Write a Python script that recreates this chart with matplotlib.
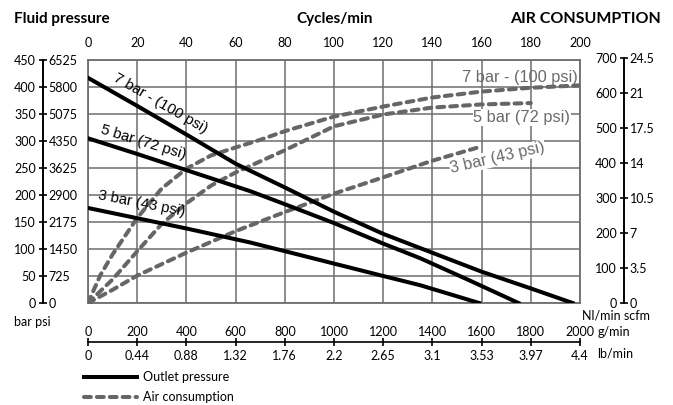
import numpy as np
import matplotlib
matplotlib.use("Agg")
import matplotlib.pyplot as plt

plt.rcParams["font.family"] = ["Lato", "DejaVu Sans"]

# outlet pressure (bar) vs flow (g/min)
p7_x = [0, 200, 400, 600, 800, 1000, 1200, 1400, 1600, 1800, 1970]
p7_y = [417, 365, 312, 258, 214, 169, 128, 93, 58, 27, 0]
p5_x = [0, 200, 400, 660, 800, 1000, 1200, 1350, 1550, 1750]
p5_y = [305, 276, 246, 207, 183, 148, 110, 83, 42, 0]
p3_x = [0, 200, 400, 660, 800, 1000, 1200, 1350, 1590]
p3_y = [176, 157, 138, 112, 96, 73, 50, 33, 0]

# air consumption (Nl/min) vs flow (g/min)
a7_x = [0, 50, 100, 200, 300, 400, 500, 600, 700, 800, 1000, 1200, 1400, 1600, 1800, 2000]
a7_y = [0, 80, 140, 245, 330, 387, 425, 448, 470, 495, 537, 566, 592, 609, 620, 627]
a5_x = [0, 100, 200, 300, 400, 500, 600, 800, 1000, 1200, 1400, 1600, 1800]
a5_y = [0, 68, 149, 228, 287, 338, 376, 440, 509, 543, 563, 572, 576]
a3_x = [0, 100, 200, 400, 600, 800, 1000, 1200, 1400, 1600]
a3_y = [0, 38, 79, 145, 207, 262, 315, 362, 410, 451]

flow_ticks = list(range(0, 2001, 200))
lb_labels = ["0", "0.44", "0.88", "1.32", "1.76", "2.2", "2.65", "3.1", "3.53", "3.97", "4.4"]
cycle_ticks = list(range(0, 201, 20))
bar_ticks = list(range(0, 451, 50))
psi_ticks = [b * 14.5 for b in bar_ticks]
nl_ticks = list(range(0, 701, 100))
scfm_labels = ["0", "3.5", "7", "10.5", "14", "17.5", "21", "24.5"]

W, H = 673, 405


def fx(px):
    return px / W


def fy(py):
    return 1 - py / H


fig = plt.figure(figsize=(W / 100, H / 100), dpi=100)

box = [fx(88), fy(303), 492 / W, 243 / H]
gridc = "#6e6e6e"
grayc = "#666666"
labc = "#6a6a6a"

# grid axes
ax = fig.add_axes(box)
ax.set_xlim(0, 2000)
ax.set_ylim(0, 450)
ax.set_xticks(flow_ticks)
ax.set_yticks(bar_ticks)
ax.grid(True, color=gridc, lw=1.1)
ax.tick_params(length=0, labelbottom=False, labelleft=False)
for s in ax.spines.values():
    s.set_color(gridc)
    s.set_linewidth(1.3)

top = ax.secondary_xaxis("top", functions=(lambda x: x / 10, lambda x: x * 10))
top.set_xticks(cycle_ticks)
top.tick_params(length=0, pad=8, labelsize=9)
top.spines["top"].set_visible(False)

# air consumption curves
ax_air = ax.twinx()
ax_air.set_ylim(0, 700)
ax_air.axis("off")
dash = dict(color=grayc, lw=2.9, dashes=(1.7, 1.5), dash_capstyle="round")
l_air, = ax_air.plot(a7_x, a7_y, **dash)
ax_air.plot(a5_x, a5_y, **dash)
ax_air.plot(a3_x, a3_y, **dash)
ax_air.plot([0], [0], "o", color=grayc, ms=5)

lab = dict(family=["Liberation Sans", "DejaVu Sans"], fontsize=11.8, color=labc)
ax_air.text(1992, 649, "7 bar - (100 psi)", ha="right", va="center", **lab)
ax_air.text(1960, 534, "5 bar (72 psi)", ha="right", va="center",
            bbox=dict(facecolor="white", edgecolor="none", pad=0.5), **lab)
ax_air.text(1665, 418, "3 bar (43 psi)", ha="center", va="center", rotation=13,
            rotation_mode="anchor",
            bbox=dict(facecolor="white", edgecolor="none", pad=0.5), **lab)

# outlet pressure curves
ax_p = ax.twinx()
ax_p.set_ylim(0, 450)
ax_p.axis("off")
l_p, = ax_p.plot(p7_x, p7_y, color="black", lw=2.9)
ax_p.plot(p5_x, p5_y, color="black", lw=2.9)
ax_p.plot(p3_x, p3_y, color="black", lw=2.9)

blab = dict(family=["Liberation Sans", "DejaVu Sans"], fontsize=10.8, color="black",
            ha="center", va="center", rotation_mode="anchor")
ax_p.text(293, 370, "7 bar - (100 psi)", rotation=-30, **blab)
ax_p.text(224, 297, "5 bar (72 psi)", rotation=-17, **blab)
ax_p.text(220, 184, "3 bar (43 psi)", rotation=-11, **blab)

# left pressure axis
axL = fig.add_axes([fx(43), fy(303), 1e-5, 243 / H])
axL.set_ylim(0, 450)
axL.patch.set_visible(False)
axL.set_xticks([])
for k in ["top", "right", "bottom"]:
    axL.spines[k].set_visible(False)
axL.spines["left"].set_linewidth(1.4)
axL.set_yticks(bar_ticks)
axL.tick_params(axis="y", direction="inout", length=6, width=1.2, pad=2, labelsize=9)
psi = axL.secondary_yaxis("right", functions=(lambda b: b * 14.5, lambda p: p / 14.5))
psi.set_yticks(psi_ticks, labels=[f"{p:g}" for p in psi_ticks])
psi.tick_params(direction="inout", length=0, pad=4, labelsize=9)
psi.spines["right"].set_visible(False)

# right air axis
axR = fig.add_axes([fx(624), fy(303), 1e-5, 245 / H])
axR.set_ylim(0, 700)
axR.patch.set_visible(False)
axR.set_xticks([])
for k in ["top", "right", "bottom"]:
    axR.spines[k].set_visible(False)
axR.spines["left"].set_linewidth(1.4)
axR.set_yticks(nl_ticks)
axR.tick_params(axis="y", direction="inout", length=6, width=1.2, pad=2, labelsize=9)
scfm = axR.secondary_yaxis("right")
scfm.set_yticks(nl_ticks, labels=scfm_labels)
scfm.tick_params(direction="inout", length=0, pad=4, labelsize=9)
scfm.spines["right"].set_visible(False)

# bottom flow axis
axB = fig.add_axes([fx(88), fy(342), 492 / W, 1e-5])
axB.set_xlim(0, 2000)
axB.patch.set_visible(False)
axB.set_yticks([])
for k in ["top", "left", "right"]:
    axB.spines[k].set_visible(False)
axB.spines["bottom"].set_linewidth(1.2)
axB.set_xticks(flow_ticks)
axB.tick_params(axis="x", direction="inout", length=6, width=1.2, top=False,
                bottom=True, labelbottom=False, labeltop=True, pad=0, labelsize=9)
lb = axB.secondary_xaxis("bottom")
lb.set_xticks(flow_ticks, labels=lb_labels)
lb.tick_params(length=0, pad=6, labelsize=9)
lb.spines["bottom"].set_visible(False)

# titles and unit labels
fig.text(fx(14), fy(19), "Fluid pressure", fontsize=11, fontweight="bold", va="center")
fig.text(fx(335), fy(19), "Cycles/min", fontsize=11, fontweight="bold", va="center", ha="center")
fig.text(fx(661), fy(19), "AIR CONSUMPTION", fontsize=11.5, fontweight="bold", va="center", ha="right")
fig.text(fx(14), fy(322), "bar psi", fontsize=9, va="center")
fig.text(fx(616), fy(315), "Nl/min scfm", fontsize=9, va="center", ha="center")
fig.text(fx(598), fy(332), "g/min", fontsize=9, va="center")
fig.text(fx(597), fy(354), "lb/min", fontsize=9, va="center")

fig.legend([l_p, l_air], ["Outlet pressure", "Air consumption"], loc="upper left",
           bbox_to_anchor=(fx(84), fy(371)), frameon=False, fontsize=9,
           handlelength=4.2, handletextpad=0.5, labelspacing=0.65, borderpad=0,
           borderaxespad=0)

fig.savefig("out.png", dpi=100)
